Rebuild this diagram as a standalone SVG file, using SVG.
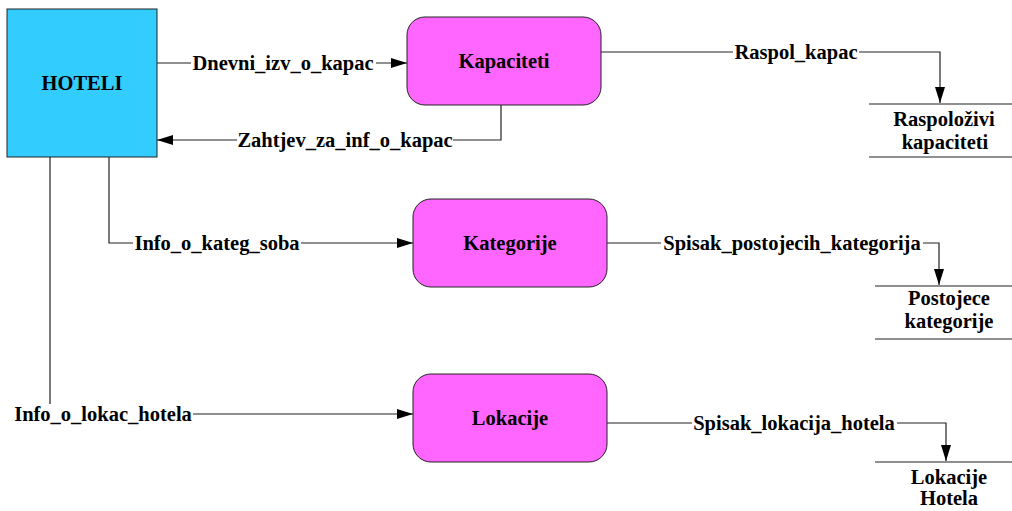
<svg xmlns="http://www.w3.org/2000/svg" width="1012" height="511" viewBox="0 0 1012 511" font-family="Liberation Serif" font-weight="bold" font-size="20.5">
<style>
text{fill:#000;text-anchor:middle}
.ext{fill:#33CCFF;stroke:#222;stroke-width:1}
.proc{fill:#FF66FF;stroke:#222;stroke-width:1}
.store{stroke:#222;stroke-width:1.2;fill:none}
.flow{fill:none;stroke:#222;stroke-width:1.2}
.lbg{fill:#fff}
</style>
<defs>
<marker id="arr" markerWidth="16" markerHeight="10" refX="16" refY="5" orient="auto" markerUnits="userSpaceOnUse">
<path d="M0,0 L16,5 L0,10 Z" fill="#000"/>
</marker>
</defs>
<rect width="1012" height="511" fill="#fff"/>
<g id="connectors">
<g id="c-dnevni"><path class="flow" d="M157,63 H407" marker-end="url(#arr)"/><rect class="lbg" x="191" y="53" width="185" height="20"/><text x="283" y="70">Dnevni_izv_o_kapac</text></g>
<g id="c-zahtjev"><path class="flow" d="M501,105 V140 H157" marker-end="url(#arr)"/><rect class="lbg" x="237" y="130" width="216" height="20"/><text x="345" y="147">Zahtjev_za_inf_o_kapac</text></g>
<g id="c-raspol"><path class="flow" d="M601,52 H940 V103" marker-end="url(#arr)"/><rect class="lbg" x="733" y="42" width="126" height="20"/><text x="796" y="59">Raspol_kapac</text></g>
<g id="c-kateg"><path class="flow" d="M109,157 V243 H413" marker-end="url(#arr)"/><rect class="lbg" x="133" y="233" width="168" height="20"/><text x="217" y="250">Info_o_kateg_soba</text></g>
<g id="c-spisakkat"><path class="flow" d="M607,243 H939 V285" marker-end="url(#arr)"/><rect class="lbg" x="661" y="233" width="262" height="20"/><text x="792" y="250">Spisak_postojecih_kategorija</text></g>
<g id="c-lokac"><path class="flow" d="M50,157 V414 H413" marker-end="url(#arr)"/><rect class="lbg" x="13" y="404" width="180" height="20"/><text x="103" y="421">Info_o_lokac_hotela</text></g>
<g id="c-spisaklok"><path class="flow" d="M607,423 H946 V461" marker-end="url(#arr)"/><rect class="lbg" x="692" y="413" width="205" height="20"/><text x="794" y="430">Spisak_lokacija_hotela</text></g>
</g>
<g id="hoteli"><rect class="ext" x="7" y="9" width="150" height="148"/><text x="82" y="90">HOTELI</text></g>
<g id="kapaciteti"><rect class="proc" x="407" y="17" width="194" height="88" rx="18" ry="18"/><text x="504" y="68">Kapaciteti</text></g>
<g id="kategorije"><rect class="proc" x="413" y="199" width="194" height="88" rx="18" ry="18"/><text x="510" y="250">Kategorije</text></g>
<g id="lokacije"><rect class="proc" x="413" y="374" width="194" height="88" rx="18" ry="18"/><text x="510" y="425">Lokacije</text></g>
<g id="store-raspolozivi"><path class="store" d="M869,104 H1012 M869,157 H1012"/><text x="944" y="126">Raspoloživi</text><text x="945" y="149">kapaciteti</text></g>
<g id="store-postojece"><path class="store" d="M875,286 H1012 M875,339 H1012"/><text x="949" y="305">Postojece</text><text x="949" y="328">kategorije</text></g>
<g id="store-lokacije"><path class="store" d="M875,462 H1012"/><text x="949" y="484">Lokacije</text><text x="949" y="505">Hotela</text></g>
</svg>
